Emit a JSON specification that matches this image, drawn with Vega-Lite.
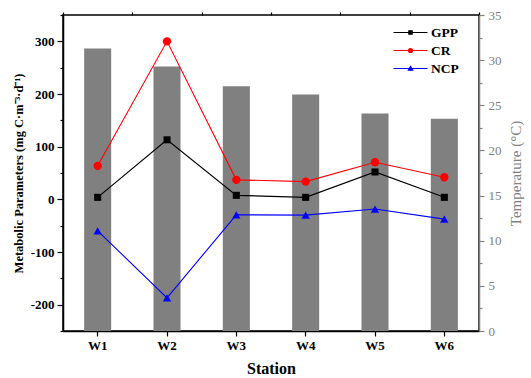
{
  "$schema": "https://vega.github.io/schema/vega-lite/v6.json",
  "width": 416,
  "height": 316,
  "autosize": {"type": "none"},
  "padding": {"left": 63, "top": 15, "right": 52, "bottom": 47},
  "background": "white",
  "config": {
    "font": "Liberation Serif, Times New Roman, serif",
    "view": {"stroke": "black", "strokeWidth": 1.5},
    "axis": {"grid": false}
  },
  "datasets": {
    "temp": [
      {"station": "W1", "temperature": 31.3},
      {"station": "W2", "temperature": 29.3},
      {"station": "W3", "temperature": 27.1},
      {"station": "W4", "temperature": 26.2},
      {"station": "W5", "temperature": 24.1},
      {"station": "W6", "temperature": 23.5}
    ],
    "metab": [
      {"station": "W1", "series": "GPP", "value": 3.8},
      {"station": "W2", "series": "GPP", "value": 113},
      {"station": "W3", "series": "GPP", "value": 7.6},
      {"station": "W4", "series": "GPP", "value": 3.8},
      {"station": "W5", "series": "GPP", "value": 52},
      {"station": "W6", "series": "GPP", "value": 3.8},
      {"station": "W1", "series": "CR", "value": 63.6},
      {"station": "W2", "series": "CR", "value": 300},
      {"station": "W3", "series": "CR", "value": 37},
      {"station": "W4", "series": "CR", "value": 33.7},
      {"station": "W5", "series": "CR", "value": 70.5},
      {"station": "W6", "series": "CR", "value": 42},
      {"station": "W1", "series": "NCP", "value": -59.8},
      {"station": "W2", "series": "NCP", "value": -187},
      {"station": "W3", "series": "NCP", "value": -29.4},
      {"station": "W4", "series": "NCP", "value": -30},
      {"station": "W5", "series": "NCP", "value": -18.5},
      {"station": "W6", "series": "NCP", "value": -37.6}
    ]
  },
  "layer": [
    {
      "data": {"name": "temp"},
      "mark": {"type": "bar", "color": "#808080", "width": {"band": 0.39}},
      "encoding": {
        "x": {
          "field": "station", "type": "nominal", "sort": null,
          "scale": {"paddingInner": 0, "paddingOuter": 0},
          "axis": {
            "title": "Station", "labelAngle": 0,
            "labelFont": "Liberation Serif, Times New Roman, serif", "labelFontSize": 13, "labelFontWeight": "bold", "labelColor": "black",
            "titleFont": "Liberation Serif, Times New Roman, serif", "titleFontSize": 16, "titleFontWeight": "bold", "titleColor": "black",
            "domainColor": "black", "domainWidth": 1.5, "tickColor": "black", "tickWidth": 1.2, "tickSize": 5,
            "labelPadding": 3, "titlePadding": 8
          }
        },
        "y": {
          "field": "temperature", "type": "quantitative",
          "scale": {"domain": [0, 35], "nice": false},
          "axis": {
            "orient": "right", "title": "Temperature (°C)", "titleAngle": 270, "titleBaseline": "top",
            "values": [0, 2.5, 5, 7.5, 10, 12.5, 15, 17.5, 20, 22.5, 25, 27.5, 30, 32.5, 35],
            "labelExpr": "datum.value % 5 === 0 ? '' + datum.value : ''",
            "tickSize": {"condition": {"test": "datum.value % 5 === 0", "value": 5}, "value": 3},
            "labelFont": "Liberation Serif, Times New Roman, serif", "labelFontSize": 13, "labelColor": "#808080",
            "titleFont": "Liberation Serif, Times New Roman, serif", "titleFontSize": 15, "titleFontWeight": "normal", "titleColor": "#808080",
            "domainColor": "#808080", "domainWidth": 1.5, "tickColor": "#808080", "tickWidth": 1.2,
            "labelPadding": 4, "titlePadding": 7
          }
        }
      }
    },
    {
      "data": {"name": "metab"},
      "encoding": {
        "x": {
          "field": "station", "type": "nominal", "sort": null,
          "axis": {"tickBand": "extent", "labels": false, "domain": false, "title": null, "tickSize": 3, "tickColor": "black", "tickWidth": 1.2}
        },
        "y": {
          "field": "value", "type": "quantitative",
          "scale": {"domain": [-250, 350], "nice": false},
          "axis": {
            "title": "Metabolic Parameters (mg C·m⁻³·d⁻¹)",
            "values": [-250, -200, -150, -100, -50, 0, 50, 100, 150, 200, 250, 300, 350],
            "labelExpr": "datum.value % 100 === 0 ? '' + datum.value : ''",
            "tickSize": {"condition": {"test": "datum.value % 100 === 0", "value": 6}, "value": 3},
            "labelFont": "Liberation Serif, Times New Roman, serif", "labelFontSize": 13, "labelFontWeight": "bold", "labelColor": "black",
            "titleFont": "Liberation Serif, Times New Roman, serif", "titleFontSize": 12.5, "titleFontWeight": "bold", "titleColor": "black",
            "domainColor": "black", "domainWidth": 1.5, "tickColor": "black", "tickWidth": 1.2,
            "labelPadding": 3, "titlePadding": 5
          }
        }
      },
      "layer": [
        {
          "mark": {"type": "line", "strokeWidth": 1.1},
          "encoding": {
            "stroke": {
              "field": "series", "type": "nominal",
              "scale": {"domain": ["GPP", "CR", "NCP"], "range": ["black", "red", "blue"]},
              "legend": {
                "title": null, "orient": "none", "legendX": 338, "legendY": 8, "padding": 0,
                "labelFont": "Liberation Serif, Times New Roman, serif", "labelFontSize": 13.5, "labelFontWeight": "bold", "labelColor": "black",
                "symbolSize": 289, "symbolStrokeWidth": 1.1, "symbolOpacity": 1, "labelOffset": 11, "rowPadding": 2,
                "encode": {
                  "symbols": {
                    "update": {
                      "fill": {"signal": "datum.value === 'GPP' ? 'black' : datum.value === 'CR' ? 'red' : 'blue'"},
                      "stroke": {"signal": "datum.value === 'GPP' ? 'black' : datum.value === 'CR' ? 'red' : 'blue'"},
                      "opacity": {"value": 1}
                    }
                  }
                }
              }
            }
          }
        },
        {
          "transform": [{"filter": "datum.series === 'GPP'"}],
          "mark": {"type": "point", "filled": true, "shape": "square", "color": "black", "size": 50, "opacity": 1}
        },
        {
          "transform": [{"filter": "datum.series === 'CR'"}],
          "mark": {"type": "point", "filled": true, "shape": "circle", "color": "red", "size": 70, "opacity": 1}
        },
        {
          "transform": [{"filter": "datum.series === 'NCP'"}],
          "mark": {"type": "point", "filled": true, "shape": "triangle-up", "color": "blue", "size": 70, "opacity": 1}
        },
        {
          "mark": {"type": "point", "filled": true, "opacity": 0},
          "encoding": {
            "fill": {
              "field": "series", "type": "nominal",
              "scale": {"domain": ["GPP", "CR", "NCP"], "range": ["black", "red", "blue"]}
            },
            "shape": {
              "field": "series", "type": "nominal",
              "scale": {
                "domain": ["GPP", "CR", "NCP"],
                "range": [
                  "M-2,0H2M-0.2,-0.2H0.2V0.2H-0.2Z",
                  "M0.24,0A0.24,0.24 0 1,1 -0.24,0A0.24,0.24 0 1,1 0.24,0ZM-2,0H2",
                  "M-2,0H2M0,-0.26L0.26,0.2H-0.26Z"
                ]
              }
            },
            "stroke": {"field": "series", "type": "nominal"}
          }
        }
      ]
    }
  ],
  "resolve": {"scale": {"y": "independent"}, "axis": {"x": "independent"}}
}
